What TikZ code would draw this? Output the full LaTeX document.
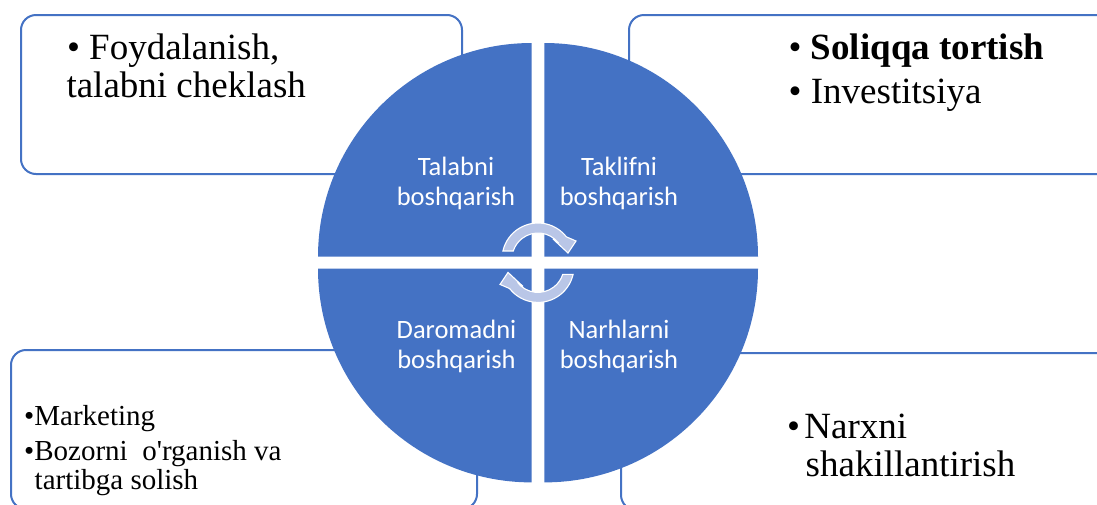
\documentclass[tikz,border=0pt]{standalone}
\usepackage{fontspec}
\newfontfamily\boxfont{Liberation Serif}
\newfontfamily\pieFont{Carlito}
\definecolor{accent}{RGB}{68,114,196}
\definecolor{arrowfill}{RGB}{185,198,231}

\tikzset{
  infobox/.style={draw=accent, line width=2pt, fill=white, rounded corners=15pt,
    rectangle, anchor=north west, inner sep=0pt},
  quarter/.style={fill=accent},
  bigtxt/.style={anchor=base west, inner sep=0pt, font=\boxfont\fontsize{37}{40}\selectfont},
  smalltxt/.style={anchor=base west, inner sep=0pt, font=\boxfont\fontsize{29}{32}\selectfont},
  pielabel/.style={align=center, inner sep=0pt, text=white,
    font=\pieFont\fontsize{26.5}{29.3}\selectfont},
  cyclearc/.style={fill=arrowfill, draw=white, line width=1.1pt, line join=miter},
}

\begin{document}
\begin{tikzpicture}[x=1pt, y=-1pt]
  \useasboundingbox (0,0) rectangle (1097,504);
  \clip (0,0) rectangle (1097,504);

  % outer text boxes (behind the circle)
  \node[infobox, minimum width=441pt, minimum height=159pt] (boxTL) at (20,14) {};
  \node[infobox, minimum width=490pt, minimum height=159pt] (boxTR) at (628,14) {};
  \node[infobox, minimum width=466pt, minimum height=159pt] (boxBL) at (10,349) {};
  \node[infobox, minimum width=490pt, minimum height=157pt] (boxBR) at (620,352) {};

  % four quarters of the circle
  \fill[quarter] (531.7,256.7) -- ++(-213.7,0) arc[start angle=180, end angle=270, radius=213.7] -- cycle;
  \fill[quarter] (544.3,256.7) -- ++(0,-213.7) arc[start angle=270, end angle=360, radius=213.7] -- cycle;
  \fill[quarter] (531.7,268.7) -- ++(-213.7,0) arc[start angle=180, end angle=90, radius=213.7] -- cycle;
  \fill[quarter] (544.3,268.7) -- ++(213.7,0) arc[start angle=0, end angle=90, radius=213.7] -- cycle;

  % quarter labels
  \node[pielabel] (lblTL) at (456,183.5) {Talabni\\boshqarish};
  \node[pielabel] (lblTR) at (619,183.5) {Taklifni\\boshqarish};
  \node[pielabel] (lblBL) at (456.5,346.5) {Daromadni\\boshqarish};
  \node[pielabel] (lblBR) at (619,346.5) {Narhlarni\\boshqarish};

  % the two curved cycle arrows in the middle
  \path[cyclearc] (538,259) ++(192.8:36) arc[start angle=192.8, end angle=322, radius=36]
    -- (576,241) -- (568,253) -- (553,239) -- (558.5,243)
    arc[start angle=322, end angle=197.9, radius=26] -- cycle;
  \begin{scope}[rotate around={180:(538,262.7)}]
    \path[cyclearc] (538,259) ++(192.8:36) arc[start angle=192.8, end angle=322, radius=36]
      -- (576,241) -- (568,253) -- (553,239) -- (558.5,243)
      arc[start angle=322, end angle=197.9, radius=26] -- cycle;
  \end{scope}

  % box texts
  \node[bigtxt] (tl1) at (66.8,59) {\textbullet{} Foydalanish,};
  \node[bigtxt] (tl2) at (66.3,97.7) {talabni cheklash};

  \node[bigtxt] (tr1) at (788.5,59) {\textbullet{} \textbf{Soliqqa tortish}};
  \node[bigtxt] (tr2) at (788.5,103) {\textbullet{} Investitsiya};

  \node[smalltxt] (bl1) at (24,425) {\textbullet Marketing};
  \node[smalltxt] (bl2) at (24,460) {\textbullet Bozorni\ \ o'rganish va};
  \node[smalltxt] (bl3) at (34.5,489) {tartibga solish};

  \node[bigtxt] (br1) at (786.8,438) {\textbullet\hspace{4.5pt}Narxni};
  \node[bigtxt] (br2) at (805.5,476.7) {shakillantirish};
\end{tikzpicture}
\end{document}
